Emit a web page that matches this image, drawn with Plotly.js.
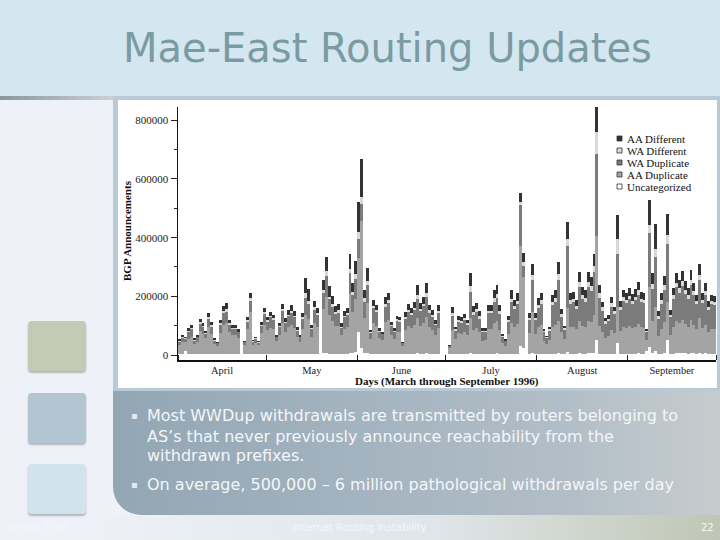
<!DOCTYPE html>
<html>
<head>
<meta charset="utf-8">
<script src="https://cdn.plot.ly/plotly-3.0.1.min.js"></script>
<style>
  html, body { margin:0; padding:0; width:720px; height:540px; overflow:hidden; background:#eef2f8; }
  .d { position:absolute; }
  #chart { position:absolute; left:0; top:0; width:720px; height:540px; }
</style>
</head>
<body>
<div class="d" style="left:0;top:0;width:720px;height:96px;background:#d4e7f0;"></div>
<div class="d" style="left:0;top:96px;width:113px;height:4px;background:linear-gradient(90deg,#8c969c,#c9d1d7);"></div>
<div class="d" style="left:113px;top:96px;width:607px;height:296px;background:#b9c9d5;"></div>
<div class="d" style="left:118px;top:100px;width:599px;height:288px;background:#ffffff;"></div>
<div class="d" style="left:113px;top:391px;width:607px;height:124px;border-bottom-left-radius:28px;background:linear-gradient(90deg,#93a6b4 0%,#a3b3bf 40%,#b2bec7 75%,#c6ccce 100%);"></div>
<div class="d" style="left:100px;top:515px;width:620px;height:25px;background:linear-gradient(90deg,#edf1f6 0%,#dfe5e8 55%,#bfc6b4 100%);"></div>
<div class="d" style="left:28px;top:321px;width:58px;height:50px;border-radius:4px;background:#c4cab6;box-shadow:0 2px 2px rgba(0,0,0,0.25);"></div>
<div class="d" style="left:28px;top:393px;width:58px;height:50px;border-radius:4px;background:#b3c5d0;box-shadow:0 2px 2px rgba(0,0,0,0.25);"></div>
<div class="d" style="left:28px;top:464px;width:58px;height:50px;border-radius:4px;background:#d1e4ee;box-shadow:0 2px 2px rgba(0,0,0,0.25);"></div>
<div id="chart"></div>
<script>
// Daily BGP announcements at Mae-East, 1 April - 30 September 1996 (values in thousands)
const startDay = '1996-04-01';
const dayCount = 183;
const seriesNames = ['Uncategorized', 'AA Duplicate', 'WA Duplicate', 'WA Different', 'AA Different'];
const monthLabels = ['April', 'May', 'June', 'July', 'August', 'September'];
const yTickValues = [0, 200000, 400000, 600000, 800000];

const uncategorized = [
 4,5,12,4,3,3,4,4,3,3, 4,3,3,3,4,4,4,3,3,3, 3,0,3,4,5,3,3,3,4,4,
 4,4,4,3,3,4,3,4,4,4, 3,3,4,5,4,3,4,4,0,6, 8,5,5,4,4,3,4,4,8,6,
 10,80,23,6,8,3,5,5,3,3, 5,5,3,3,4,4,3,4,4,4, 5,6,4,5,6,4,4,3,4,0,
 0,0,2,4,3,4,3,4,3,6, 4,4,4,3,3,4,4,5,6,4, 3,3,4,5,5,5,30,25,0,4,
 6,4,5,5,3,3,3,5,5,6, 4,3,10,5,5,5,6,5,5,6, 6,8,50,5,5,4,4,5,4,40,
 5,5,5,5,5,5,6,5,5,15, 27,6,12,4,5,6,50,4,5,6, 6,6,6,5,6,6,5,7,5,6,
 5,5,5];
const aaDuplicate = [
 30,38,32,52,60,34,42,78,70,54, 90,70,34,28,72,100,104,75,64,66, 56,0,30,84,140,32,38,30,70,100,
 80,88,84,44,66,104,74,90,98,88, 58,42,84,130,120,60,106,92,0,150, 190,130,110,95,96,64,86,92,200,140,
 180,250,434,120,170,52,105,95,55,48, 108,116,66,52,76,74,28,80,95,88, 98,120,95,105,125,90,82,64,88,0,
 0,0,22,80,52,70,68,74,64,120, 82,88,74,46,48,84,84,105,110,82, 38,28,66,105,92,100,340,240,0,70,
 140,68,90,96,46,34,48,92,96,110, 74,50,150,90,92,82,110,95,92,110, 105,130,355,95,75,55,60,80,70,122,
 78,92,88,95,88,92,100,90,88,35, 204,110,153,62,85,105,130,64,92,110, 102,112,100,92,112,98,84,118,86,98,
 75,84,82];
const waDuplicate = [
 12,16,12,22,25,12,14,24,22,16, 30,24,12,9,28,38,40,25,22,20, 18,0,10,26,40,10,14,9,26,36,
 30,36,32,14,26,42,32,38,42,36, 22,16,36,60,50,26,44,40,0,56, 70,55,50,40,44,26,38,40,70,60,
 70,65,57,55,60,20,50,45,22,19, 52,55,30,25,36,36,10,40,48,44, 50,65,50,56,68,50,44,35,50,0,
 0,0,6,50,28,40,38,42,36,90, 52,55,46,30,28,54,54,72,80,55, 22,16,44,70,60,68,140,40,0,45,
 110,46,65,72,28,20,32,72,78,140, 52,33,210,80,82,70,115,90,85,115, 108,145,280,95,70,48,52,80,65,184,
 72,88,84,90,82,90,100,85,84,28, 184,110,170,58,85,110,200,60,94,115, 105,118,102,94,120,100,84,130,86,100,
 75,84,82];
const waDifferent = [
 2,3,2,4,4,2,3,5,4,3, 6,4,2,2,5,8,10,5,4,4, 3,0,2,5,8,2,2,2,4,6,
 5,5,5,2,4,7,5,6,7,6, 3,2,5,16,11,4,9,6,0,10, 17,9,8,7,10,4,6,6,15,10,
 15,25,23,12,14,3,8,7,3,3, 9,10,5,3,6,5,1,6,8,7, 8,12,8,9,12,8,7,5,8,0,
 0,0,1,8,4,6,6,7,6,18, 9,10,8,4,4,9,9,12,13,9, 3,2,6,12,10,12,12,12,0,8,
 18,8,12,13,4,3,4,13,15,20, 9,5,24,12,12,10,18,15,14,18, 16,20,75,15,12,8,8,12,10,51,
 10,12,10,12,10,12,14,11,11,4, 28,17,25,9,12,16,30,9,13,16, 15,17,15,13,17,14,11,18,11,14,
 10,11,11];
const aaDifferent = [
 6,7,5,9,11,6,6,12,10,7, 13,10,6,4,11,16,19,10,10,10, 8,0,4,12,18,4,6,4,10,14,
 12,13,12,6,10,18,12,16,18,15, 8,6,14,50,40,10,20,18,0,35, 50,35,27,20,20,12,17,18,50,30,
 45,100,132,30,45,8,21,19,8,7, 24,25,10,8,12,12,4,16,20,17, 20,35,19,24,34,18,16,12,20,0,
 0,0,3,22,9,13,13,14,12,45, 19,20,17,8,8,20,20,29,31,20, 6,5,14,28,21,25,30,30,0,16,
 36,17,22,25,7,5,8,24,26,40, 18,9,60,23,25,20,35,28,25,35, 32,43,85,30,18,10,11,22,16,80,
 20,25,23,26,23,26,28,23,23,8, 85,35,86,16,24,32,70,17,26,33, 29,33,28,25,35,27,22,37,23,28,
 18,22,20];

const seriesColors = ['#ffffff', '#a4a4a4', '#7b7b7b', '#d9d9d9', '#333333'];

// build the day axis
const days = [];
const d0 = new Date(startDay + 'T00:00:00Z');
for (let i = 0; i < dayCount; i++) {
  const d = new Date(d0.getTime() + i * 86400000);
  days.push(d.toISOString().slice(0, 10));
}

const allSeries = [uncategorized, aaDuplicate, waDuplicate, waDifferent, aaDifferent];
const traces = allSeries.map((vals, i) => ({
  type: 'bar',
  name: seriesNames[i],
  x: days,
  y: vals.map(v => v * 1000),
  xperiod: 86400000,
  xperiodalignment: 'middle',
  marker: { color: seriesColors[i], line: { width: 0 } },
  showlegend: false,
  hoverinfo: 'skip'
}));

// pixel -> paper helpers (plot area 178..716 x 107..360)
const L = 178, T = 107, W = 538, H = 253;
const px = X => (X - L) / W;
const py = Y => (T + H - Y) / H;

const serif = 'Liberation Serif, Times New Roman, serif';
const sans = 'DejaVu Sans, Verdana, sans-serif';

const annotations = [];
const shapes = [];
function txt(text, X, Y, opts) {
  annotations.push(Object.assign({
    text: text, x: px(X), y: py(Y), xref: 'paper', yref: 'paper',
    showarrow: false, xanchor: 'left', yanchor: 'middle'
  }, opts));
}

// slide title
txt('Mae-East Routing Updates', 387, 48, { xanchor: 'center', font: { family: sans, size: 40, color: '#7b9ba3' } });

// axis titles
txt('<b>BGP Announcements</b>', 127, 231, { xanchor: 'center', textangle: -90, font: { family: serif, size: 11, color: '#111' } });
txt('<b>Days (March through September 1996)</b>', 447, 381, { xanchor: 'center', font: { family: serif, size: 11, color: '#111' } });

// custom legend (top to bottom)
const legendOrder = [4, 3, 2, 1, 0];
const legendRows = [138.5, 150.5, 162.5, 174.5, 186.5];
legendOrder.forEach((si, r) => {
  const Y = legendRows[r];
  shapes.push({ type: 'rect', xref: 'paper', yref: 'paper',
    x0: px(617), x1: px(622), y0: py(Y + 2.5), y1: py(Y - 2.5),
    fillcolor: seriesColors[si], line: { color: '#333', width: 0.8 } });
  txt(seriesNames[si], 625, Y, { font: { family: serif, size: 11, color: '#111' } });
});

// bullet text
const bulletColor = '#f3f6f9';
const bfont = { family: sans, size: 16, color: bulletColor };
txt('▪', 129, 415, { font: { family: sans, size: 10, color: '#e3e9ee' } });
txt('Most WWDup withdrawals are transmitted by routers belonging to', 145, 415, { font: bfont });
txt('AS’s that never previously announce reachability from the', 145, 436, { font: bfont });
txt('withdrawn prefixes.', 145, 455, { font: bfont });
txt('▪', 129, 484, { font: { family: sans, size: 10, color: '#e3e9ee' } });
txt('On average, 500,000 – 6 million pathological withdrawals per day', 145, 484, { font: bfont });

// footer
const ffont = { family: sans, size: 10, color: '#f4f6f8' };
txt('Spring 2006', 5, 527, { font: ffont });
txt('Internet Routing Instability', 360, 527, { xanchor: 'center', font: ffont });
txt('22', 716, 527, { xanchor: 'right', font: ffont });

const layout = {
  width: 720, height: 540,
  margin: { l: L, r: 720 - L - W, t: T, b: 540 - T - H, pad: 0 },
  paper_bgcolor: 'rgba(0,0,0,0)',
  plot_bgcolor: 'rgba(0,0,0,0)',
  barmode: 'stack',
  bargap: 0,
  xaxis: {
    type: 'date',
    range: ['1996-04-01', '1996-10-01'],
    tick0: '1996-04-01', dtick: 'M1',
    ticklabelmode: 'period', tickformat: '%B',
    ticks: 'inside', ticklen: 5, tickwidth: 1, tickcolor: '#222',
    showline: true, linecolor: '#111', linewidth: 1.5,
    showgrid: false, zeroline: false,
    tickfont: { family: serif, size: 10.5, color: '#222' }
  },
  yaxis: {
    range: [-17000, 845300],
    tickmode: 'array', tickvals: yTickValues, tickformat: 'd',
    ticks: 'outside', ticklen: 6, tickwidth: 1, tickcolor: '#222',
    minor: { tickmode: 'linear', tick0: 0, dtick: 100000, ticks: 'outside', ticklen: 3, tickcolor: '#222', showgrid: false },
    showline: true, linecolor: '#111', linewidth: 1.5,
    showgrid: false, zeroline: false,
    tickfont: { family: serif, size: 11, color: '#222' }
  },
  annotations: annotations,
  shapes: shapes
};

Plotly.newPlot('chart', traces, layout, { staticPlot: true, displayModeBar: false });
</script>
</body>
</html>
